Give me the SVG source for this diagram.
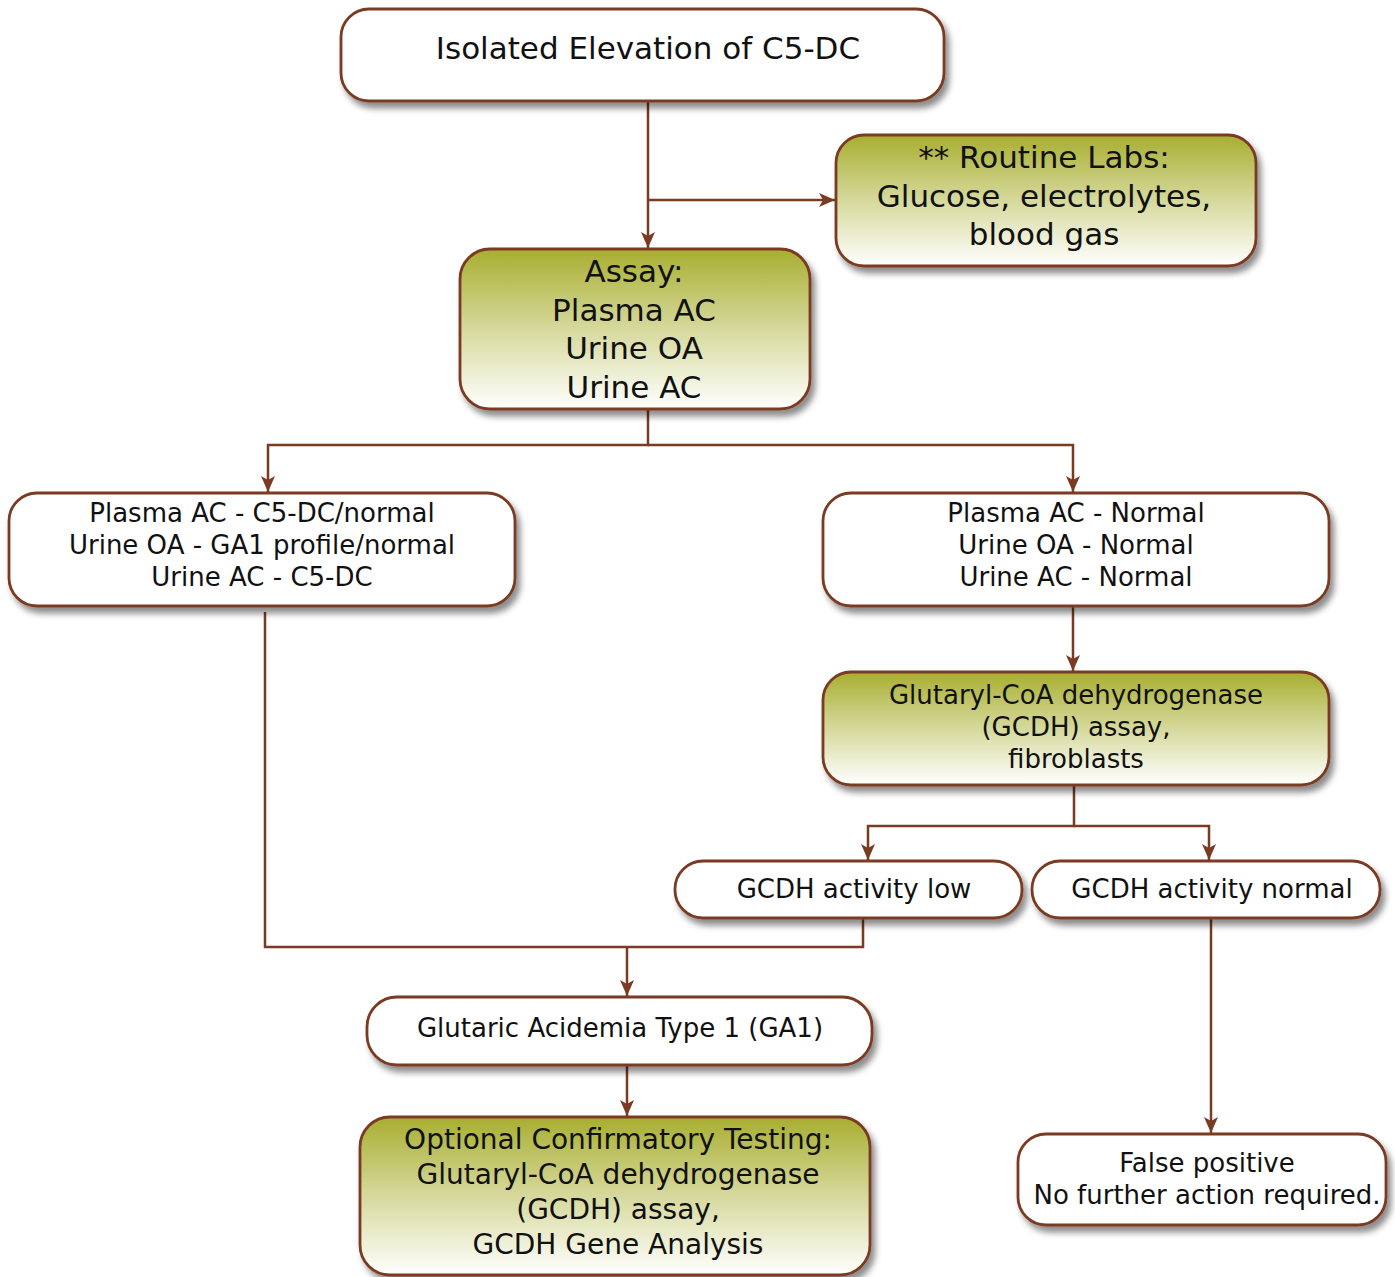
<svg xmlns="http://www.w3.org/2000/svg" width="1395" height="1277" viewBox="0 0 1395 1277">
<defs>
<linearGradient id="olive" x1="0" y1="0" x2="0" y2="1">
<stop offset="0" stop-color="#a8ae30"/>
<stop offset="0.5" stop-color="#d6d99c"/>
<stop offset="1" stop-color="#ffffff"/>
</linearGradient>
<filter id="sh" x="-10%" y="-10%" width="125%" height="135%">
<feDropShadow dx="4" dy="6" stdDeviation="3" flood-color="#000" flood-opacity="0.45"/>
</filter>
<marker id="ah" viewBox="0 0 16 14" refX="16" refY="7" markerWidth="16" markerHeight="14" markerUnits="userSpaceOnUse" orient="auto">
<path d="M0,0 L16,7 L0,14 L4,7 Z" fill="#7a3b22"/>
</marker>
</defs>
<style>
.box{stroke:#7a3b22;stroke-width:2.8;filter:url(#sh)}
.w{fill:#ffffff}
.g{fill:url(#olive)}
text{font-family:"DejaVu Sans","Liberation Sans",sans-serif;fill:#111;text-anchor:middle}
.l{font-size:31px}
.m{font-size:26px}
.o{font-size:28px}
.c{fill:none;stroke:#7a3b22;stroke-width:2.5}
</style>
<rect width="1395" height="1277" fill="#ffffff"/>
<g id="connectors">
<path class="c" d="M648,101 V248" marker-end="url(#ah)"/>
<path class="c" d="M648,200 H835" marker-end="url(#ah)"/>
<path class="c" d="M648,409 V445 H268 V492" marker-end="url(#ah)"/>
<path class="c" d="M648,445 H1073 V492" marker-end="url(#ah)"/>
<path class="c" d="M1073,606 V671" marker-end="url(#ah)"/>
<path class="c" d="M1074,785 V826 H868 V860" marker-end="url(#ah)"/>
<path class="c" d="M1074,826 H1209 V860" marker-end="url(#ah)"/>
<path class="c" d="M265,612 V947 H863 V918"/>
<path class="c" d="M627,947 V996" marker-end="url(#ah)"/>
<path class="c" d="M627,1065 V1116" marker-end="url(#ah)"/>
<path class="c" d="M1211,918 V1133" marker-end="url(#ah)"/>
</g>
<g id="n1"><rect class="box w" x="341" y="9" width="603" height="92" rx="28"/>
<text class="l" x="648" y="59">Isolated Elevation of C5-DC</text></g>
<g id="n2"><rect class="box g" x="836" y="135" width="420" height="131" rx="28"/>
<text class="l" x="1044" y="168">** Routine Labs:</text>
<text class="l" x="1044" y="207">Glucose, electrolytes,</text>
<text class="l" x="1044" y="245">blood gas</text></g>
<g id="n3"><rect class="box g" x="460" y="249" width="350" height="160" rx="30"/>
<text class="l" x="634" y="282">Assay:</text>
<text class="l" x="634" y="321">Plasma AC</text>
<text class="l" x="634" y="359">Urine OA</text>
<text class="l" x="634" y="398">Urine AC</text></g>
<g id="n4"><rect class="box w" x="9" y="493" width="506" height="113" rx="28"/>
<text class="m" x="262" y="522">Plasma AC - C5-DC/normal</text>
<text class="m" x="262" y="554">Urine OA - GA1 profile/normal</text>
<text class="m" x="262" y="586">Urine AC - C5-DC</text></g>
<g id="n5"><rect class="box w" x="823" y="493" width="506" height="113" rx="28"/>
<text class="m" x="1076" y="522">Plasma AC - Normal</text>
<text class="m" x="1076" y="554">Urine OA - Normal</text>
<text class="m" x="1076" y="586">Urine AC - Normal</text></g>
<g id="n6"><rect class="box g" x="823" y="672" width="506" height="113" rx="28"/>
<text class="m" x="1076" y="704">Glutaryl-CoA dehydrogenase</text>
<text class="m" x="1076" y="736">(GCDH) assay,</text>
<text class="m" x="1076" y="768">fibroblasts</text></g>
<g id="n7"><rect class="box w" x="675" y="861" width="347" height="57" rx="28"/>
<text class="m" x="854" y="898">GCDH activity low</text></g>
<g id="n8"><rect class="box w" x="1032" y="861" width="348" height="57" rx="28"/>
<text class="m" x="1212" y="898">GCDH activity normal</text></g>
<g id="n9"><rect class="box w" x="367" y="997" width="505" height="68" rx="30"/>
<text class="m" x="620" y="1037">Glutaric Acidemia Type 1 (GA1)</text></g>
<g id="n10"><rect class="box g" x="360" y="1117" width="510" height="158" rx="30"/>
<text class="o" x="618" y="1149">Optional Confirmatory Testing:</text>
<text class="o" x="618" y="1184">Glutaryl-CoA dehydrogenase</text>
<text class="o" x="618" y="1219">(GCDH) assay,</text>
<text class="o" x="618" y="1254">GCDH Gene Analysis</text></g>
<g id="n11"><rect class="box w" x="1018" y="1134" width="368" height="91" rx="28"/>
<text class="m" x="1207" y="1172">False positive</text>
<text class="m" x="1207" y="1204">No further action required.</text></g>
</svg>
